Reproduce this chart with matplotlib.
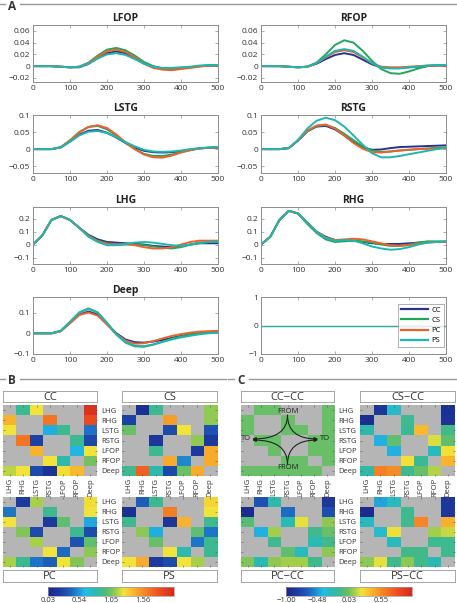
import numpy as np
import matplotlib
matplotlib.use('Agg')
import matplotlib.pyplot as plt
from matplotlib.colors import LinearSegmentedColormap
from matplotlib.ticker import FuncFormatter
from matplotlib.lines import Line2D

plt.rcParams['font.family'] = ['Open Sans', 'DejaVu Sans']

# ---- data: panel A (time in ms, sampled every 25 ms) ----
ms = [0, 25, 50, 75, 100, 125, 150, 175, 200, 225, 250, 275, 300, 325, 350, 375, 400, 425, 450, 475, 500]
conds = ['CC', 'CS', 'PC', 'PS']

lfop_cc = [0, 0, 0, -0.001, -0.002, -0.002, 0.004, 0.014, 0.022, 0.025, 0.022, 0.014, 0.005, -0.001, -0.004, -0.004, -0.003, -0.002, 0, 0.001, 0.001]
lfop_cs = [0, 0, 0, -0.001, -0.002, -0.001, 0.006, 0.018, 0.028, 0.031, 0.027, 0.018, 0.007, 0, -0.004, -0.005, -0.004, -0.002, 0, 0.001, 0.001]
lfop_pc = [0, 0, 0, -0.001, -0.002, -0.001, 0.005, 0.016, 0.025, 0.028, 0.024, 0.015, 0.004, -0.003, -0.006, -0.007, -0.005, -0.003, -0.001, 0.001, 0.001]
lfop_ps = [0, 0, 0, -0.001, -0.002, -0.001, 0.004, 0.013, 0.020, 0.022, 0.019, 0.012, 0.004, -0.001, -0.003, -0.003, -0.002, -0.001, 0.001, 0.002, 0.002]

rfop_cc = [0, 0, 0, -0.001, -0.002, -0.001, 0.004, 0.012, 0.019, 0.022, 0.019, 0.011, 0.003, -0.002, -0.003, -0.003, -0.002, -0.001, 0, 0.001, 0.001]
rfop_cs = [0, 0, 0, -0.001, -0.002, -0.001, 0.006, 0.020, 0.036, 0.044, 0.040, 0.026, 0.009, -0.005, -0.012, -0.013, -0.009, -0.004, 0, 0.002, 0.002]
rfop_pc = [0, 0, 0, -0.001, -0.002, -0.001, 0.005, 0.015, 0.024, 0.027, 0.024, 0.015, 0.005, -0.001, -0.002, -0.002, -0.001, 0, 0.001, 0.001, 0.001]
rfop_ps = [0, 0, 0, -0.001, -0.002, -0.001, 0.005, 0.016, 0.026, 0.029, 0.026, 0.016, 0.005, -0.002, -0.004, -0.004, -0.002, -0.001, 0.001, 0.002, 0.002]

lstg_cc = [0, 0, 0, 0.005, 0.022, 0.042, 0.054, 0.056, 0.048, 0.034, 0.018, 0.005, -0.005, -0.009, -0.010, -0.009, -0.006, -0.002, 0.002, 0.004, 0.004]
lstg_cs = [0, 0, 0, 0.006, 0.026, 0.050, 0.065, 0.068, 0.058, 0.040, 0.018, 0, -0.014, -0.020, -0.020, -0.016, -0.009, -0.003, 0.002, 0.004, 0.005]
lstg_pc = [0, 0, 0, 0.005, 0.024, 0.048, 0.065, 0.070, 0.062, 0.043, 0.020, 0, -0.016, -0.024, -0.025, -0.019, -0.010, -0.003, 0.002, 0.004, 0.005]
lstg_ps = [0, 0, 0, 0.005, 0.022, 0.040, 0.051, 0.053, 0.047, 0.035, 0.021, 0.008, -0.002, -0.007, -0.008, -0.007, -0.004, 0, 0.003, 0.005, 0.006]

rstg_cc = [0, 0, 0, 0.003, 0.025, 0.052, 0.066, 0.068, 0.058, 0.040, 0.020, 0.005, -0.002, -0.001, 0.003, 0.006, 0.007, 0.008, 0.009, 0.010, 0.011]
rstg_cs = [0, 0, 0, 0.003, 0.025, 0.052, 0.068, 0.071, 0.062, 0.045, 0.026, 0.008, -0.004, -0.008, -0.007, -0.004, -0.002, 0, 0.002, 0.004, 0.005]
rstg_pc = [0, 0, 0, 0.003, 0.026, 0.054, 0.069, 0.072, 0.060, 0.040, 0.018, 0.001, -0.009, -0.010, -0.007, -0.004, -0.002, 0, 0.001, 0.002, 0.002]
rstg_ps = [0, 0, 0, 0.003, 0.027, 0.060, 0.083, 0.092, 0.085, 0.066, 0.040, 0.013, -0.012, -0.024, -0.024, -0.020, -0.015, -0.010, -0.005, 0, 0.004]

lhg_cc = [0, 0.07, 0.19, 0.22, 0.19, 0.13, 0.075, 0.04, 0.02, 0.015, 0.01, 0.005, 0, -0.01, -0.015, -0.02, -0.01, 0, 0.01, 0.01, 0.01]
lhg_cs = [0, 0.07, 0.19, 0.22, 0.19, 0.13, 0.07, 0.03, 0.01, 0, 0, 0, -0.005, -0.015, -0.025, -0.03, -0.02, 0, 0.015, 0.02, 0.02]
lhg_pc = [0, 0.07, 0.19, 0.22, 0.19, 0.13, 0.065, 0.025, 0.005, 0, 0.005, -0.005, -0.02, -0.03, -0.03, -0.02, 0, 0.02, 0.03, 0.03, 0.03]
lhg_ps = [0, 0.07, 0.19, 0.22, 0.19, 0.13, 0.06, 0.02, -0.005, -0.005, 0.005, 0.015, 0.02, 0.015, 0.005, -0.005, -0.01, 0, 0.01, 0.02, 0.025]

rhg_cc = [0, 0.06, 0.19, 0.26, 0.24, 0.17, 0.10, 0.06, 0.035, 0.035, 0.03, 0.02, 0.01, 0.005, 0.005, 0.005, 0.01, 0.015, 0.02, 0.02, 0.02]
rhg_cs = [0, 0.06, 0.19, 0.26, 0.24, 0.16, 0.09, 0.04, 0.02, 0.025, 0.03, 0.025, 0.015, 0, -0.01, -0.01, 0, 0.015, 0.025, 0.025, 0.025]
rhg_pc = [0, 0.06, 0.19, 0.26, 0.24, 0.17, 0.10, 0.055, 0.035, 0.04, 0.045, 0.04, 0.025, 0.01, -0.005, -0.01, -0.005, 0.005, 0.015, 0.02, 0.02]
rhg_ps = [0, 0.06, 0.19, 0.26, 0.24, 0.17, 0.10, 0.05, 0.03, 0.035, 0.03, 0.01, -0.015, -0.03, -0.04, -0.035, -0.02, 0, 0.015, 0.02, 0.025]

deep_cc = [0, 0, 0, 0.01, 0.05, 0.09, 0.105, 0.09, 0.045, 0, -0.03, -0.043, -0.045, -0.04, -0.032, -0.022, -0.013, -0.005, 0, 0.004, 0.006]
deep_cs = [0, 0, 0, 0.012, 0.055, 0.10, 0.12, 0.10, 0.05, -0.005, -0.045, -0.063, -0.065, -0.055, -0.04, -0.026, -0.015, -0.006, 0, 0.004, 0.006]
deep_pc = [0, 0, 0, 0.01, 0.048, 0.088, 0.10, 0.085, 0.042, -0.005, -0.035, -0.05, -0.048, -0.038, -0.025, -0.013, -0.004, 0.003, 0.008, 0.01, 0.012]
deep_ps = [0, 0, 0, 0.012, 0.055, 0.10, 0.117, 0.10, 0.05, -0.005, -0.042, -0.06, -0.062, -0.054, -0.042, -0.03, -0.02, -0.012, -0.005, 0, 0.003]

flat = [0] * len(ms)

# ---- data: panels B and C (7x7 matrices, nan = no connection) ----
regions = ['LHG', 'RHG', 'LSTG', 'RSTG', 'LFOP', 'RFOP', 'Deep']
N = np.nan

cc = [[N, 0.89, 1.25, N, N, N, 2.01],
      [1.42, N, N, 1.66, N, N, 1.85],
      [1.25, N, N, 0.60, 0.89, N, 0.44],
      [N, 1.66, 0.25, N, N, 0.89, 0.28],
      [N, N, 1.42, N, N, 0.62, 1.25],
      [N, N, N, 1.25, 0.80, N, 1.05],
      [1.18, 1.25, 0.30, 0.15, 1.28, 1.40, N]]
cs = [[N, 0.13, 0.89, N, N, N, 1.11],
      [0.25, N, N, 1.50, N, N, 1.11],
      [1.03, N, N, 0.30, 1.25, N, 0.33],
      [N, N, 0.18, N, N, 1.11, 0.20],
      [N, N, 0.89, N, N, 0.20, 1.45],
      [N, N, N, 1.45, 0.50, N, 1.45],
      [0.90, 1.75, 0.80, 0.28, 1.03, 1.45, N]]
pc = [[N, 0.20, 1.15, N, N, N, 1.28],
      [0.45, N, N, 0.89, N, N, 1.25],
      [1.25, N, N, 0.20, 1.00, N, 0.58],
      [N, 1.08, 0.30, N, N, 0.89, 0.30],
      [N, N, 1.15, N, N, 0.33, 1.00],
      [N, N, N, 1.25, 0.42, N, 1.10],
      [1.15, 0.89, 0.45, 0.38, 1.25, 1.08, N]]
ps = [[N, 0.38, 0.89, N, N, N, 1.30],
      [0.13, N, N, 1.62, N, N, 1.25],
      [0.90, N, N, 0.18, 1.42, N, 0.90],
      [N, 1.10, 0.60, N, N, 1.00, 0.45],
      [N, N, 1.02, N, N, 0.45, 0.89],
      [N, N, N, 1.25, 0.78, N, 0.89],
      [1.25, 1.45, 0.20, 0.30, 1.25, 1.15, N]]

cc_cc = [[N, 0, 0, N, N, N, 0],
         [0, N, N, 0, N, N, 0],
         [0, N, N, 0, 0, N, 0],
         [N, 0, 0, N, N, 0, 0],
         [N, N, 0, N, N, 0, 0],
         [N, N, N, 0, 0, N, 0],
         [0, 0, 0, 0, 0, 0, N]]
cs_cc = [[N, -0.85, -0.30, N, N, N, -0.90],
         [-0.92, N, N, -0.13, N, N, -0.88],
         [-0.22, N, N, -0.15, 0.38, N, -0.10],
         [N, -0.42, -0.02, N, N, 0.20, -0.02],
         [N, N, -0.42, N, N, -0.28, 0.24],
         [N, N, N, 0.24, -0.15, N, 0.40],
         [-0.20, 0.60, 0.55, -0.12, 0.00, 0.15, N]]
pc_cc = [[N, -0.70, -0.22, N, N, N, -0.85],
         [-0.93, N, N, -0.60, N, N, -0.72],
         [-0.05, N, N, -0.25, 0.22, N, 0.08],
         [N, -0.42, 0.12, N, N, -0.12, 0.00],
         [N, N, -0.12, N, N, -0.25, -0.12],
         [N, N, N, -0.02, -0.28, N, 0.08],
         [0.06, -0.25, 0.08, 0.12, 0.12, -0.12, N]]
ps_cc = [[N, -0.45, -0.28, N, N, N, -0.85],
         [-0.93, N, N, -0.13, N, N, -0.85],
         [-0.28, N, N, -0.12, 0.58, N, 0.42],
         [N, -0.32, 0.25, N, N, 0.12, 0.18],
         [N, N, -0.28, N, N, -0.13, -0.13],
         [N, N, N, -0.10, -0.10, N, -0.12],
         [0.08, 0.22, -0.12, 0.08, -0.12, -0.25, N]]

b_ticks = [0.03, 0.54, 1.05, 1.56]
c_ticks = [-1.00, -0.48, 0.03, 0.55]

# ---- styling ----
W, H = 457, 603
line_colors = ['#27338f', '#22a65a', '#f0602c', '#1fb6b0']
frame_gray = '#8c8c8c'
cmap = LinearSegmentedColormap.from_list('conn', [
    (0.0, '#1b2585'), (0.1, '#1d3ea3'), (0.18, '#1f63be'), (0.25, '#1e9ad8'),
    (0.3, '#22bde6'), (0.37, '#2cb9b0'), (0.44, '#45ba87'), (0.5, '#73c160'),
    (0.55, '#a8d04a'), (0.6, '#f2e33a'), (0.68, '#f8b52e'), (0.78, '#f57f25'),
    (0.88, '#ef4f22'), (1.0, '#d42a1c')])
cmap.set_bad('#b5b5b5')

fig = plt.figure(figsize=(W / 100, H / 100), dpi=100)


def frame(x0, y0, x1, y1):
    # pixel box (top-left origin) -> figure fraction
    return [x0 / W, 1 - y1 / H, (x1 - x0) / W, (y1 - y0) / H]


def fmt(v, pos):
    s = '%g' % round(v, 4)
    return s.replace('-', '\u2212')


def wave(box, title, ylim, yticks, series):
    ax = fig.add_axes(frame(*box))
    for ys, c, lab in zip(series, line_colors, conds):
        ax.plot(ms, ys, color=c, lw=1.4, label=lab)
    ax.set_xlim(0, 500)
    ax.set_ylim(*ylim)
    ax.set_xticks([0, 100, 200, 300, 400, 500])
    ax.set_yticks(yticks)
    ax.yaxis.set_major_formatter(FuncFormatter(fmt))
    ax.tick_params(direction='in', length=2, width=0.5, colors=frame_gray,
                   labelcolor='#333333', labelsize=6, top=True, right=True, pad=2)
    for s in ax.spines.values():
        s.set_color(frame_gray)
        s.set_linewidth(0.7)
    if title:
        ax.set_title(title, fontsize=7.5, fontweight='bold', pad=3, color='#222222')
    return ax


left, right = (33, 218), (261, 446)
rows = [(25, 82), (115, 173), (207, 264), (297, 354)]

wave((left[0], rows[0][0], left[1], rows[0][1]), 'LFOP', (-0.027, 0.07), [-0.02, 0, 0.02, 0.04, 0.06],
     [lfop_cc, lfop_cs, lfop_pc, lfop_ps])
wave((right[0], rows[0][0], right[1], rows[0][1]), 'RFOP', (-0.027, 0.07), [-0.02, 0, 0.02, 0.04, 0.06],
     [rfop_cc, rfop_cs, rfop_pc, rfop_ps])
wave((left[0], rows[1][0], left[1], rows[1][1]), 'LSTG', (-0.07, 0.1), [-0.05, 0, 0.05, 0.1],
     [lstg_cc, lstg_cs, lstg_pc, lstg_ps])
wave((right[0], rows[1][0], right[1], rows[1][1]), 'RSTG', (-0.07, 0.1), [-0.05, 0, 0.05, 0.1],
     [rstg_cc, rstg_cs, rstg_pc, rstg_ps])
wave((left[0], rows[2][0], left[1], rows[2][1]), 'LHG', (-0.15, 0.29), [-0.1, 0, 0.1, 0.2],
     [lhg_cc, lhg_cs, lhg_pc, lhg_ps])
wave((right[0], rows[2][0], right[1], rows[2][1]), 'RHG', (-0.15, 0.29), [-0.1, 0, 0.1, 0.2],
     [rhg_cc, rhg_cs, rhg_pc, rhg_ps])
wave((left[0], rows[3][0], left[1], rows[3][1]), 'Deep', (-0.1, 0.175), [-0.1, 0, 0.1],
     [deep_cc, deep_cs, deep_pc, deep_ps])
ax_leg = wave((right[0], rows[3][0], right[1], rows[3][1]), None, (-1, 1), [-1, 0, 1],
              [flat, flat, flat, flat])
for ln in ax_leg.lines:
    ln.set_linewidth(0.8)
handles = [Line2D([], [], color=c, lw=1.6) for c in line_colors]
leg = ax_leg.legend(handles, conds, loc='center right', fontsize=5.5, handlelength=3.6,
                    frameon=True, fancybox=False, borderaxespad=0.3, labelspacing=0.35,
                    handletextpad=0.4, borderpad=0.4)
leg.get_frame().set_edgecolor(frame_gray)
leg.get_frame().set_linewidth(0.6)


# ---- section headers ----
def header(letter, x_letter, y, x0, x1):
    fig.add_artist(Line2D([x0 / W, (x_letter - 7) / W], [1 - y / H] * 2, color='#999999', lw=1))
    fig.add_artist(Line2D([(x_letter + 8) / W, x1 / W], [1 - y / H] * 2, color='#999999', lw=1))
    fig.text(x_letter / W, 1 - (y + 2) / H, letter, ha='center', va='center',
             fontsize=8.5, fontweight='bold', color='#333333')


header('A', 12, 4, 0, 457)
header('B', 12, 379, 0, 226)
header('C', 241, 379, 228, 457)


# ---- heatmaps ----
def heat(box, data, vmin, vmax, col_labels=False, row_labels=False):
    ax = fig.add_axes(frame(*box))
    im = ax.imshow(np.ma.masked_invalid(np.array(data, dtype=float)), cmap=cmap,
                   vmin=vmin, vmax=vmax, aspect='auto', interpolation='nearest')
    ax.set_xticks(range(7))
    ax.set_yticks(range(7))
    ax.tick_params(length=1.5, width=0.4, colors='#555555', labelsize=5.5,
                   labelcolor='#333333', direction='in', pad=1.5,
                   labelbottom=col_labels, labelleft=False, labelright=row_labels,
                   right=True, top=True)
    if col_labels:
        ax.set_xticklabels(regions, rotation=90)
    else:
        ax.set_xticklabels([])
    if row_labels:
        ax.set_yticklabels(regions)
        ax.tick_params(axis='y', pad=3)
    else:
        ax.set_yticklabels([])
    for s in ax.spines.values():
        s.set_visible(False)
    return ax, im


def title_box(box, text):
    ax = fig.add_axes(frame(*box))
    ax.set_xticks([])
    ax.set_yticks([])
    for s in ax.spines.values():
        s.set_color('#999999')
        s.set_linewidth(0.6)
    ax.text(0.5, 0.45, text, ha='center', va='center', fontsize=8, color='#333333',
            transform=ax.transAxes)


bx = [(3, 97), (122, 217)]
cx = [(241, 334), (360, 455)]
ty, by = (405, 476), (497, 567)

b_vmin, b_vmax = 0.03, 2.07
c_vmin, c_vmax = -1.0, 1.06

ax_ccb, im_b = heat((bx[0][0], ty[0], bx[0][1], ty[1]), cc, b_vmin, b_vmax, True, True)
heat((bx[1][0], ty[0], bx[1][1], ty[1]), cs, b_vmin, b_vmax, True)
heat((bx[0][0], by[0], bx[0][1], by[1]), pc, b_vmin, b_vmax, False, True)
heat((bx[1][0], by[0], bx[1][1], by[1]), ps, b_vmin, b_vmax)
title_box((bx[0][0], 391, bx[0][1], 402), 'CC')
title_box((bx[1][0], 391, bx[1][1], 402), 'CS')
title_box((bx[0][0], 570, bx[0][1], 582), 'PC')
title_box((bx[1][0], 570, bx[1][1], 582), 'PS')

ax_cccc, im_c = heat((cx[0][0], ty[0], cx[0][1], ty[1]), cc_cc, c_vmin, c_vmax, True, True)
heat((cx[1][0], ty[0], cx[1][1], ty[1]), cs_cc, c_vmin, c_vmax, True)
heat((cx[0][0], by[0], cx[0][1], by[1]), pc_cc, c_vmin, c_vmax, False, True)
heat((cx[1][0], by[0], cx[1][1], by[1]), ps_cc, c_vmin, c_vmax)
title_box((cx[0][0], 391, cx[0][1], 402), 'CC\u2212CC')
title_box((cx[1][0], 391, cx[1][1], 402), 'CS\u2212CC')
title_box((cx[0][0], 570, cx[0][1], 582), 'PC\u2212CC')
title_box((cx[1][0], 570, cx[1][1], 582), 'PS\u2212CC')

# FROM / TO sketch on CC-CC: curves leave FROM vertically and reach TO horizontally
txt = dict(fontsize=5.5, color='#222222', ha='center', va='center')
ax_cccc.text(3, 0.15, 'FROM', **txt)
ax_cccc.text(3, 5.7, 'FROM', **txt)
ax_cccc.text(-0.1, 2.85, 'TO', **txt)
ax_cccc.text(5.85, 2.85, 'TO', **txt)
arr = dict(arrowstyle='-|>', color='#222222', lw=0.8, mutation_scale=5, shrinkA=0, shrinkB=0,
           connectionstyle='angle3,angleA=90,angleB=0')
ax_cccc.annotate('', xy=(0.35, 2.85), xytext=(3, 0.5), arrowprops=arr)
ax_cccc.annotate('', xy=(5.3, 2.85), xytext=(3, 0.5), arrowprops=arr)
ax_cccc.annotate('', xy=(0.35, 2.95), xytext=(3, 5.35), arrowprops=arr)
ax_cccc.annotate('', xy=(5.3, 2.95), xytext=(3, 5.35), arrowprops=arr)


# ---- colorbars ----
def cbar(box, im, ticks):
    cax = fig.add_axes(frame(*box))
    cb = fig.colorbar(im, cax=cax, orientation='horizontal', ticks=ticks)
    cb.ax.xaxis.set_major_formatter(FuncFormatter(lambda v, p: ('%.2f' % v).replace('-', '\u2212')))
    cb.ax.tick_params(length=0, labelsize=5.5, pad=1, labelcolor='#333333')
    cb.outline.set_edgecolor('#999999')
    cb.outline.set_linewidth(0.5)


cbar((48, 587, 174, 596), im_b, b_ticks)
cbar((286, 587, 412, 596), im_c, c_ticks)

fig.savefig('out.png', dpi=100)
